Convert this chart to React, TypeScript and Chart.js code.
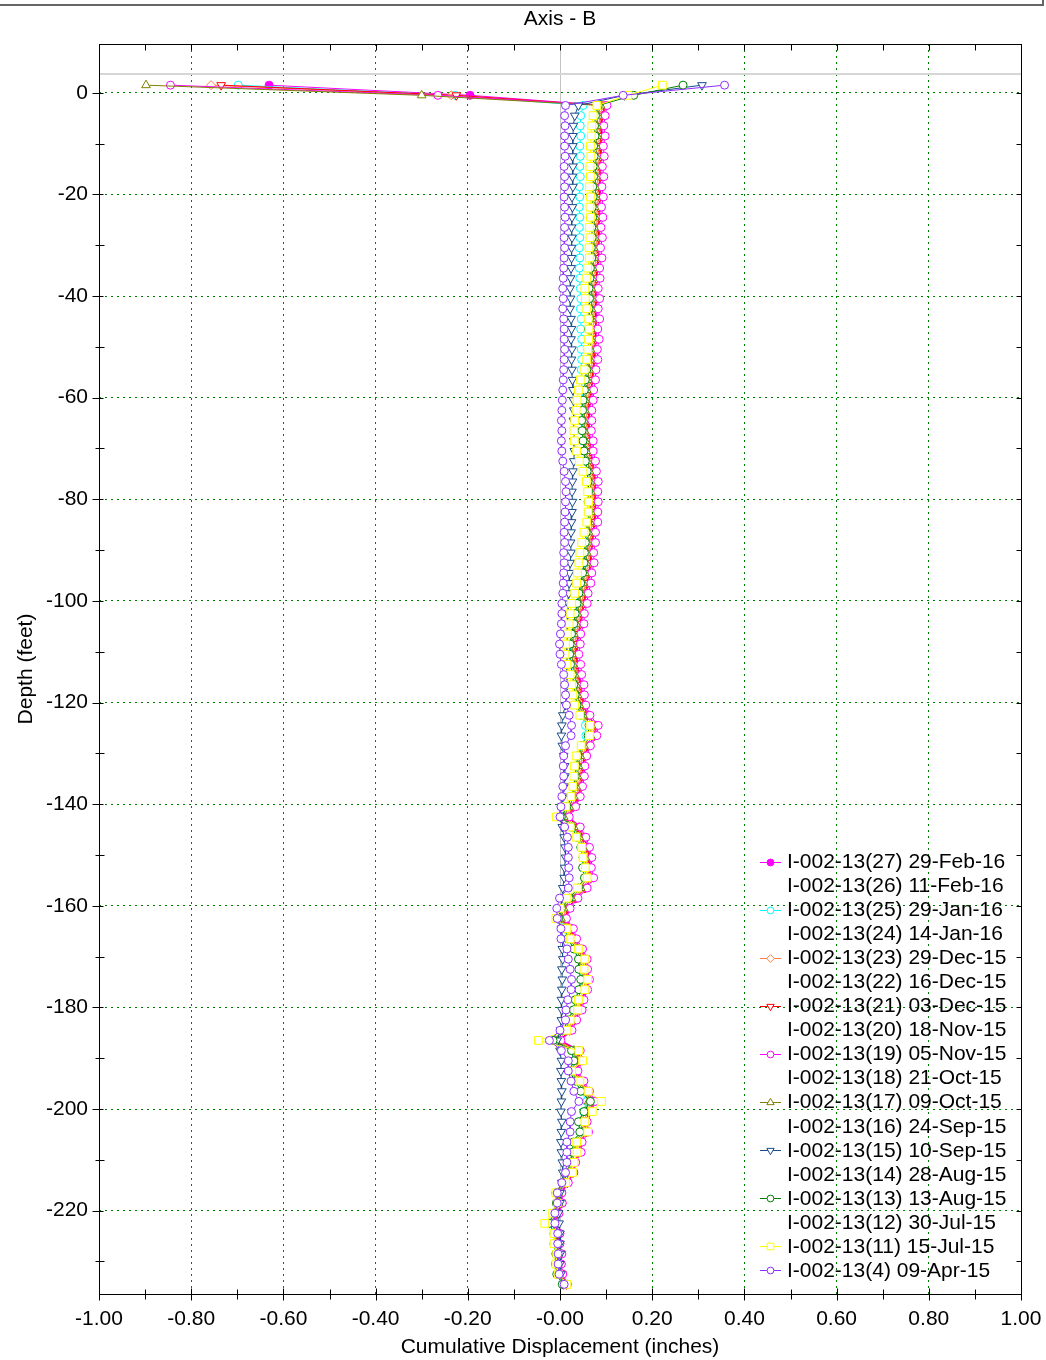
import React, { useEffect, useRef } from 'react';
import { Chart, registerables } from 'chart.js';
import { drawPoint } from 'chart.js/helpers';

Chart.register(...registerables);

const FONT = "'Liberation Sans', Arial, Helvetica, sans-serif";

// Depth of each reading (feet)
const depths = [
  1.5, -0.5, -2.5, -4.5, -6.5, -8.5, -10.5, -12.5, -14.5, -16.5,
  -18.5, -20.5, -22.5, -24.5, -26.5, -28.5, -30.5, -32.5, -34.5, -36.5,
  -38.5, -40.5, -42.5, -44.5, -46.5, -48.5, -50.5, -52.5, -54.5, -56.5,
  -58.5, -60.5, -62.5, -64.5, -66.5, -68.5, -70.5, -72.5, -74.5, -76.5,
  -78.5, -80.5, -82.5, -84.5, -86.5, -88.5, -90.5, -92.5, -94.5, -96.5,
  -98.5, -100.5, -102.5, -104.5, -106.5, -108.5, -110.5, -112.5, -114.5, -116.5,
  -118.5, -120.5, -122.5, -124.5, -126.5, -128.5, -130.5, -132.5, -134.5, -136.5,
  -138.5, -140.5, -142.5, -144.5, -146.5, -148.5, -150.5, -152.5, -154.5, -156.5,
  -158.5, -160.5, -162.5, -164.5, -166.5, -168.5, -170.5, -172.5, -174.5, -176.5,
  -178.5, -180.5, -182.5, -184.5, -186.5, -188.5, -190.5, -192.5, -194.5, -196.5,
  -198.5, -200.5, -202.5, -204.5, -206.5, -208.5, -210.5, -212.5, -214.5, -216.5,
  -218.5, -220.5, -222.5, -224.5, -226.5, -228.5, -230.5, -232.5, -234.5,
];

// Cumulative displacement (inches), one value per depth
const s27 = [
  -0.631, -0.195, 0.099, 0.093, 0.091, 0.092, 0.089, 0.090, 0.088, 0.089,
  0.087, 0.088, 0.086, 0.087, 0.085, 0.086, 0.084, 0.085, 0.082, 0.081,
  0.079, 0.080, 0.079, 0.080, 0.078, 0.079, 0.077, 0.076, 0.074, 0.071,
  0.069, 0.066, 0.065, 0.063, 0.064, 0.066, 0.068, 0.071, 0.075, 0.077,
  0.078, 0.077, 0.078, 0.076, 0.073, 0.071, 0.069, 0.068, 0.065, 0.061,
  0.057, 0.053, 0.049, 0.046, 0.041, 0.038, 0.037, 0.039, 0.043, 0.046,
  0.049, 0.053, 0.061, 0.079, 0.077, 0.063, 0.055, 0.051, 0.049, 0.046,
  0.041, 0.031, 0.019, 0.041, 0.053, 0.061, 0.066, 0.065, 0.069, 0.056,
  0.036, 0.019, 0.013, 0.026, 0.033, 0.046, 0.056, 0.057, 0.061, 0.057,
  0.049, 0.045, 0.033, 0.023, 0.001, 0.041, 0.046, 0.036, 0.049, 0.061,
  0.073, 0.066, 0.056, 0.059, 0.045, 0.043, 0.033, 0.029, 0.017, 0.003,
  0.004, -0.003, -0.011, -0.001, -0.001, 0.003, 0.002, 0.005, 0.015,
];
const s25 = [
  -0.698, -0.228, 0.050, 0.045, 0.044, 0.045, 0.043, 0.044, 0.043, 0.044,
  0.042, 0.043, 0.042, 0.043, 0.042, 0.043, 0.042, 0.043, 0.042, 0.043,
  0.044, 0.045, 0.044, 0.046, 0.045, 0.047, 0.046, 0.047, 0.046, 0.047,
  0.048, 0.048, 0.049, 0.048, 0.050, 0.051, 0.053, 0.056, 0.059, 0.061,
  0.063, 0.062, 0.063, 0.061, 0.058, 0.056, 0.054, 0.053, 0.050, 0.046,
  0.042, 0.038, 0.034, 0.031, 0.026, 0.023, 0.022, 0.024, 0.028, 0.031,
  0.034, 0.038, 0.046, 0.055, 0.056, 0.048, 0.040, 0.036, 0.034, 0.031,
  0.026, 0.016, 0.004, 0.026, 0.038, 0.046, 0.051, 0.050, 0.054, 0.041,
  0.021, 0.004, -0.002, 0.011, 0.018, 0.031, 0.041, 0.042, 0.046, 0.042,
  0.034, 0.030, 0.018, 0.008, -0.014, 0.026, 0.031, 0.021, 0.034, 0.046,
  0.058, 0.051, 0.041, 0.044, 0.030, 0.028, 0.022, 0.018, 0.006, -0.008,
  -0.007, -0.014, -0.022, -0.012, -0.012, -0.008, -0.009, -0.006, 0.006,
];
const s23 = [
  -0.757, -0.236, 0.093, 0.087, 0.085, 0.086, 0.083, 0.084, 0.082, 0.083,
  0.081, 0.082, 0.080, 0.081, 0.079, 0.080, 0.078, 0.079, 0.076, 0.075,
  0.073, 0.074, 0.073, 0.074, 0.072, 0.073, 0.071, 0.070, 0.068, 0.065,
  0.063, 0.060, 0.059, 0.057, 0.058, 0.060, 0.062, 0.065, 0.069, 0.071,
  0.072, 0.071, 0.072, 0.070, 0.067, 0.065, 0.063, 0.062, 0.059, 0.055,
  0.051, 0.047, 0.043, 0.040, 0.035, 0.032, 0.031, 0.033, 0.037, 0.040,
  0.043, 0.047, 0.055, 0.073, 0.071, 0.057, 0.049, 0.045, 0.043, 0.040,
  0.035, 0.025, 0.013, 0.035, 0.047, 0.055, 0.060, 0.059, 0.063, 0.050,
  0.030, 0.013, 0.007, 0.020, 0.027, 0.040, 0.050, 0.051, 0.055, 0.051,
  0.043, 0.039, 0.027, 0.017, -0.005, 0.035, 0.040, 0.030, 0.043, 0.055,
  0.067, 0.060, 0.050, 0.053, 0.039, 0.037, 0.031, 0.027, 0.015, 0.001,
  0.002, -0.005, -0.013, -0.003, -0.003, 0.001, 0.000, 0.003, 0.015,
];
const s21 = [
  -0.735, -0.225, 0.097, 0.091, 0.089, 0.090, 0.087, 0.088, 0.086, 0.087,
  0.085, 0.086, 0.084, 0.085, 0.083, 0.084, 0.082, 0.083, 0.080, 0.079,
  0.077, 0.078, 0.077, 0.078, 0.076, 0.077, 0.075, 0.074, 0.072, 0.069,
  0.067, 0.064, 0.063, 0.061, 0.062, 0.064, 0.066, 0.069, 0.073, 0.075,
  0.076, 0.075, 0.076, 0.074, 0.071, 0.069, 0.067, 0.066, 0.063, 0.059,
  0.055, 0.051, 0.047, 0.044, 0.039, 0.036, 0.035, 0.037, 0.041, 0.044,
  0.047, 0.051, 0.059, 0.077, 0.075, 0.061, 0.053, 0.049, 0.047, 0.044,
  0.039, 0.029, 0.017, 0.039, 0.051, 0.059, 0.064, 0.063, 0.067, 0.054,
  0.034, 0.017, 0.011, 0.024, 0.031, 0.044, 0.054, 0.055, 0.059, 0.055,
  0.047, 0.043, 0.031, 0.021, -0.001, 0.039, 0.044, 0.034, 0.047, 0.059,
  0.071, 0.064, 0.054, 0.057, 0.043, 0.041, 0.032, 0.028, 0.016, 0.002,
  0.003, -0.004, -0.012, -0.002, -0.002, 0.002, 0.001, 0.004, 0.014,
];
const s19 = [
  -0.845, -0.265, 0.102, 0.098, 0.095, 0.098, 0.094, 0.096, 0.092, 0.095,
  0.091, 0.094, 0.090, 0.093, 0.089, 0.092, 0.088, 0.091, 0.086, 0.087,
  0.083, 0.086, 0.083, 0.086, 0.082, 0.085, 0.081, 0.082, 0.078, 0.077,
  0.073, 0.072, 0.069, 0.069, 0.068, 0.072, 0.072, 0.077, 0.079, 0.083,
  0.082, 0.083, 0.082, 0.082, 0.077, 0.077, 0.073, 0.074, 0.069, 0.067,
  0.061, 0.059, 0.053, 0.052, 0.045, 0.044, 0.041, 0.045, 0.047, 0.052,
  0.053, 0.056, 0.065, 0.083, 0.080, 0.066, 0.058, 0.054, 0.053, 0.049,
  0.044, 0.034, 0.020, 0.044, 0.056, 0.064, 0.069, 0.068, 0.073, 0.059,
  0.039, 0.022, 0.014, 0.029, 0.036, 0.049, 0.059, 0.060, 0.064, 0.060,
  0.052, 0.048, 0.036, 0.026, 0.002, 0.044, 0.049, 0.039, 0.052, 0.064,
  0.076, 0.069, 0.059, 0.062, 0.048, 0.046, 0.034, 0.030, 0.018, 0.004,
  0.005, -0.002, -0.010, 0.000, 0.000, 0.004, 0.003, 0.006, 0.016,
];
const s17 = [
  -0.898, -0.300, 0.088, 0.082, 0.080, 0.081, 0.078, 0.079, 0.077, 0.078,
  0.076, 0.077, 0.075, 0.076, 0.074, 0.075, 0.073, 0.074, 0.071, 0.070,
  0.068, 0.069, 0.068, 0.069, 0.067, 0.068, 0.066, 0.065, 0.063, 0.060,
  0.058, 0.055, 0.054, 0.052, 0.053, 0.055, 0.057, 0.060, 0.064, 0.066,
  0.067, 0.066, 0.067, 0.065, 0.062, 0.060, 0.058, 0.057, 0.054, 0.050,
  0.046, 0.042, 0.038, 0.035, 0.030, 0.027, 0.026, 0.028, 0.032, 0.035,
  0.038, 0.042, 0.050, 0.068, 0.066, 0.052, 0.044, 0.040, 0.038, 0.035,
  0.030, 0.020, 0.008, 0.030, 0.042, 0.050, 0.055, 0.054, 0.058, 0.045,
  0.025, 0.008, 0.002, 0.015, 0.022, 0.035, 0.045, 0.046, 0.050, 0.046,
  0.038, 0.034, 0.022, 0.012, -0.010, 0.030, 0.035, 0.025, 0.038, 0.050,
  0.062, 0.055, 0.045, 0.048, 0.034, 0.032, 0.026, 0.022, 0.010, -0.004,
  -0.003, -0.010, -0.018, -0.008, -0.008, -0.004, -0.005, -0.002, 0.010,
];
const s15 = [
  0.308, 0.140, 0.040, 0.032, 0.029, 0.028, 0.028, 0.027, 0.028, 0.027,
  0.028, 0.026, 0.027, 0.026, 0.025, 0.026, 0.025, 0.025, 0.024, 0.023,
  0.022, 0.023, 0.022, 0.024, 0.025, 0.024, 0.026, 0.025, 0.026, 0.027,
  0.028, 0.029, 0.030, 0.029, 0.031, 0.030, 0.031, 0.030, 0.028, 0.027,
  0.026, 0.027, 0.026, 0.025, 0.024, 0.023, 0.024, 0.022, 0.021, 0.020,
  0.019, 0.018, 0.017, 0.016, 0.015, 0.014, 0.015, 0.014, 0.015, 0.016,
  0.014, 0.012, 0.006, 0.004, 0.003, 0.005, 0.008, 0.010, 0.011, 0.009,
  0.007, 0.003, 0.001, 0.005, 0.009, 0.011, 0.012, 0.010, 0.009, 0.006,
  0.004, 0.002, -0.004, 0.003, 0.006, 0.005, 0.006, 0.004, 0.005, 0.004,
  0.003, 0.004, 0.003, 0.001, -0.006, 0.000, 0.003, 0.002, 0.003, 0.004,
  0.003, 0.002, 0.004, 0.003, 0.002, 0.003, 0.005, 0.006, 0.004, 0.000,
  0.000, -0.003, -0.002, 0.000, 0.000, 0.001, 0.000, 0.002, 0.007,
];
const s13 = [
  0.267, 0.160, 0.083, 0.077, 0.075, 0.076, 0.073, 0.074, 0.072, 0.073,
  0.071, 0.072, 0.070, 0.071, 0.069, 0.070, 0.068, 0.069, 0.066, 0.065,
  0.063, 0.064, 0.063, 0.064, 0.062, 0.063, 0.061, 0.060, 0.058, 0.055,
  0.053, 0.050, 0.049, 0.047, 0.048, 0.050, 0.052, 0.055, 0.059, 0.061,
  0.062, 0.061, 0.062, 0.060, 0.057, 0.055, 0.053, 0.052, 0.049, 0.045,
  0.041, 0.037, 0.033, 0.030, 0.025, 0.022, 0.021, 0.023, 0.027, 0.030,
  0.033, 0.037, 0.045, 0.063, 0.061, 0.047, 0.039, 0.035, 0.033, 0.030,
  0.025, 0.015, 0.003, 0.025, 0.037, 0.045, 0.050, 0.049, 0.053, 0.040,
  0.020, 0.003, -0.003, 0.010, 0.017, 0.030, 0.040, 0.041, 0.045, 0.041,
  0.033, 0.029, 0.017, 0.007, -0.015, 0.025, 0.030, 0.020, 0.033, 0.045,
  0.066, 0.052, 0.040, 0.043, 0.029, 0.027, 0.021, 0.017, 0.005, -0.009,
  -0.008, -0.015, -0.023, -0.013, -0.013, -0.009, -0.010, -0.007, 0.005,
];
const s11 = [
  0.222, 0.147, 0.080, 0.072, 0.069, 0.068, 0.066, 0.067, 0.065, 0.066,
  0.064, 0.066, 0.065, 0.066, 0.064, 0.065, 0.063, 0.064, 0.060, 0.058,
  0.054, 0.055, 0.058, 0.061, 0.063, 0.062, 0.060, 0.058, 0.052, 0.044,
  0.040, 0.037, 0.035, 0.032, 0.030, 0.031, 0.036, 0.042, 0.050, 0.057,
  0.060, 0.062, 0.061, 0.058, 0.052, 0.047, 0.043, 0.041, 0.038, 0.036,
  0.032, 0.025, 0.022, 0.020, 0.016, 0.012, 0.011, 0.015, 0.022, 0.025,
  0.028, 0.032, 0.043, 0.065, 0.064, 0.046, 0.035, 0.031, 0.030, 0.028,
  0.024, 0.012, -0.008, 0.022, 0.035, 0.047, 0.050, 0.055, 0.059, 0.038,
  0.015, 0.000, -0.009, 0.015, 0.022, 0.040, 0.054, 0.052, 0.060, 0.054,
  0.040, 0.038, 0.022, 0.015, -0.047, 0.041, 0.049, 0.025, 0.043, 0.061,
  0.090, 0.070, 0.054, 0.060, 0.036, 0.037, 0.030, 0.027, 0.012, -0.009,
  -0.006, -0.016, -0.033, -0.013, -0.013, -0.007, -0.009, -0.004, 0.015,
];
const s4 = [
  0.357, 0.137, 0.012, 0.010, 0.011, 0.010, 0.010, 0.011, 0.009, 0.010,
  0.010, 0.009, 0.010, 0.011, 0.010, 0.009, 0.010, 0.009, 0.008, 0.007,
  0.006, 0.007, 0.006, 0.008, 0.009, 0.009, 0.010, 0.009, 0.008, 0.007,
  0.006, 0.005, 0.004, 0.003, 0.004, 0.003, 0.004, 0.006, 0.009, 0.012,
  0.013, 0.012, 0.011, 0.010, 0.009, 0.010, 0.008, 0.009, 0.008, 0.007,
  0.006, 0.004, 0.004, 0.003, 0.001, -0.001, 0.000, 0.003, 0.008, 0.010,
  0.012, 0.014, 0.020, 0.025, 0.024, 0.012, 0.008, 0.007, 0.008, 0.006,
  0.004, 0.002, 0.000, 0.010, 0.016, 0.018, 0.018, 0.019, 0.020, 0.018,
  -0.001, -0.007, -0.006, 0.002, 0.002, 0.015, 0.018, 0.022, 0.025, 0.024,
  0.017, 0.013, 0.012, 0.000, -0.023, 0.003, 0.018, 0.018, 0.024, 0.030,
  0.041, 0.025, 0.022, 0.022, 0.015, 0.015, 0.015, 0.012, 0.004, -0.006,
  -0.006, -0.011, -0.011, -0.005, -0.005, -0.004, -0.004, -0.002, 0.009,
];

const seriesLabels = [
  'I-002-13(27) 29-Feb-16',
  'I-002-13(26) 11-Feb-16',
  'I-002-13(25) 29-Jan-16',
  'I-002-13(24) 14-Jan-16',
  'I-002-13(23) 29-Dec-15',
  'I-002-13(22) 16-Dec-15',
  'I-002-13(21) 03-Dec-15',
  'I-002-13(20) 18-Nov-15',
  'I-002-13(19) 05-Nov-15',
  'I-002-13(18) 21-Oct-15',
  'I-002-13(17) 09-Oct-15',
  'I-002-13(16) 24-Sep-15',
  'I-002-13(15) 10-Sep-15',
  'I-002-13(14) 28-Aug-15',
  'I-002-13(13) 13-Aug-15',
  'I-002-13(12) 30-Jul-15',
  'I-002-13(11) 15-Jul-15',
  'I-002-13(4) 09-Apr-15',
];
// series values in legend order (null = listed in legend, not plotted)
const seriesValues: (number[] | null)[] = [
  s27, null, s25, null, s23, null, s21, null, s19, null, s17, null, s15, null, s13, null, s11, s4,
];

const xTickValues = [-1, -0.8, -0.6, -0.4, -0.2, 0, 0.2, 0.4, 0.6, 0.8, 1];
const xTickLabels = ['-1.00', '-0.80', '-0.60', '-0.40', '-0.20', '-0.00', '0.20', '0.40', '0.60', '0.80', '1.00'];
const yTickValues = [0, -20, -40, -60, -80, -100, -120, -140, -160, -180, -200, -220];
const yTickLabels = ['0', '-20', '-40', '-60', '-80', '-100', '-120', '-140', '-160', '-180', '-200', '-220'];
const referenceDepths = [3.6];

type Style = { color: string; point: string; rot: number; fill: string; radius: number };
const styles: (Style | null)[] = [
  { color: '#ff00ff', point: 'circle', rot: 0, fill: '#ff00ff', radius: 4 },
  null,
  { color: '#00ffff', point: 'circle', rot: 0, fill: '#ffffff', radius: 4 },
  null,
  { color: '#ff8040', point: 'rectRot', rot: 0, fill: '#ffffff', radius: 4.5 },
  null,
  { color: '#ff0000', point: 'triangle', rot: 180, fill: '#ffffff', radius: 5 },
  null,
  { color: '#ff00ff', point: 'circle', rot: 0, fill: '#ffffff', radius: 4 },
  null,
  { color: '#808000', point: 'triangle', rot: 0, fill: '#ffffff', radius: 5 },
  null,
  { color: '#1a4b8c', point: 'triangle', rot: 180, fill: '#ffffff', radius: 5 },
  null,
  { color: '#008000', point: 'circle', rot: 0, fill: '#ffffff', radius: 4 },
  null,
  { color: '#ffff00', point: 'rect', rot: 0, fill: '#ffffff', radius: 5.5 },
  { color: '#8f2cff', point: 'circle', rot: 0, fill: '#ffffff', radius: 4 },
];

const decorPlugin = {
  id: 'decor',
  beforeDatasetsDraw(chart: any) {
    const { ctx, chartArea, scales } = chart;
    const { left, right, top, bottom } = chartArea;
    ctx.save();
    const x0 = Math.round(scales.x.getPixelForValue(0)) + 0.5;
    ctx.strokeStyle = '#c4c4c4';
    ctx.lineWidth = 1;
    ctx.beginPath();
    ctx.moveTo(x0, top);
    ctx.lineTo(x0, bottom);
    ctx.stroke();
    ctx.strokeStyle = '#d6d6d6';
    ctx.lineWidth = 2;
    referenceDepths.forEach((d) => {
      const yy = Math.round(scales.y.getPixelForValue(d));
      ctx.beginPath();
      ctx.moveTo(left, yy);
      ctx.lineTo(right, yy);
      ctx.stroke();
    });
    ctx.restore();
  },
  afterDatasetsDraw(chart: any) {
    const { ctx, chartArea, scales } = chart;
    const { left, right, top, bottom } = chartArea;
    ctx.save();
    ctx.strokeStyle = '#000';
    ctx.lineWidth = 1;
    const L = Math.round(left) + 0.5;
    const R = Math.round(right) + 0.5;
    const T = Math.round(top) + 0.5;
    const B = Math.round(bottom) + 0.5;
    ctx.strokeRect(L, T, R - L, B - T);
    ctx.beginPath();
    for (let i = -10; i <= 10; i++) {
      const px = Math.round(scales.x.getPixelForValue(i / 10)) + 0.5;
      const major = i % 2 === 0;
      ctx.moveTo(px, B - (major ? 6 : 5));
      ctx.lineTo(px, B + (major ? 6 : 5));
      ctx.moveTo(px, T);
      ctx.lineTo(px, T + 6);
    }
    for (let v = 0; v >= -230; v -= 10) {
      const py = Math.round(scales.y.getPixelForValue(v)) + 0.5;
      const major = v % 20 === 0;
      ctx.moveTo(L - (major ? 7 : 4), py);
      ctx.lineTo(L + (major ? 4 : 5), py);
      ctx.moveTo(R, py);
      ctx.lineTo(R - 5, py);
    }
    ctx.stroke();
    ctx.restore();
  },
  afterDraw(chart: any) {
    const { ctx, chartArea } = chart;
    const lx = chartArea.right - 261;
    const ly0 = chartArea.bottom - 432.5;
    const dy = 24.02;
    ctx.save();
    ctx.font = `21px ${FONT}`;
    ctx.textBaseline = 'middle';
    ctx.textAlign = 'left';
    seriesLabels.forEach((label, i) => {
      const yy = ly0 + i * dy;
      const st = styles[i];
      if (st) {
        ctx.strokeStyle = st.color;
        ctx.lineWidth = 1;
        ctx.beginPath();
        ctx.moveTo(lx, Math.round(yy) + 0.5);
        ctx.lineTo(lx + 21, Math.round(yy) + 0.5);
        ctx.stroke();
        ctx.fillStyle = st.fill;
        ctx.strokeStyle = st.color;
        drawPoint(ctx, { pointStyle: st.point, rotation: st.rot, radius: st.radius * 0.85, borderWidth: 1 } as any, lx + 10.5, Math.round(yy) + 0.5);
      }
      ctx.fillStyle = '#000';
      ctx.fillText(label, lx + 27, yy + 1);
    });
    ctx.restore();
  },
};

export default function App() {
  const canvasRef = useRef<HTMLCanvasElement>(null);

  useEffect(() => {
    const canvas = canvasRef.current;
    if (!canvas) return;
    const datasets = seriesLabels.map((label, i) => {
      const vals = seriesValues[i];
      const st = styles[i];
      const data = vals ? vals.map((v, k) => ({ x: v, y: depths[k] })) : [];
      return {
        label,
        data,
        showLine: true,
        order: seriesLabels.length - 1 - i,
        borderColor: st ? st.color : 'transparent',
        borderWidth: 1,
        pointStyle: st ? st.point : 'circle',
        pointRotation: st ? st.rot : 0,
        pointRadius: st ? st.radius : 0,
        pointBackgroundColor: st ? st.fill : 'transparent',
        pointBorderColor: st ? st.color : 'transparent',
        pointBorderWidth: 1,
        tension: 0,
      };
    });
    const tickFont = { family: FONT, size: 21 };
    const chart = new Chart(canvas, {
      type: 'scatter',
      data: { datasets: datasets as any },
      plugins: [decorPlugin],
      options: {
        animation: false,
        responsive: false,
        maintainAspectRatio: false,
        layout: { padding: { left: 0, right: 25, top: 0, bottom: 0 } },
        plugins: {
          legend: { display: false },
          tooltip: { enabled: false },
          title: { display: false },
        },
        scales: {
          x: {
            type: 'linear',
            position: 'bottom',
            min: -1,
            max: 1,
            afterBuildTicks: (s: any) => {
              s.ticks = xTickValues.map((v) => ({ value: v }));
            },
            afterFit: (s: any) => {
              s.height = 66;
              s.paddingLeft = 0;
              s.paddingRight = 0;
            },
            ticks: {
              autoSkip: false,
              maxRotation: 0,
              padding: 13,
              color: '#000',
              font: tickFont,
              callback: (_v: any, idx: number) => xTickLabels[idx],
            },
            grid: { color: '#008000', lineWidth: 1, drawTicks: false },
            border: { display: false, dash: [2, 4] },
            title: {
              display: true,
              text: 'Cumulative Displacement (inches)',
              color: '#000',
              font: tickFont,
              padding: { top: 0, bottom: 0 },
            },
          },
          xTop: {
            type: 'linear',
            position: 'top',
            min: -1,
            max: 1,
            afterFit: (s: any) => {
              s.height = 44;
              s.paddingLeft = 0;
              s.paddingRight = 0;
            },
            ticks: { display: false },
            grid: { display: false, drawTicks: false },
            border: { display: false },
            title: {
              display: true,
              text: 'Axis - B',
              color: '#000',
              font: tickFont,
              padding: { top: 7, bottom: 0 },
            },
          },
          y: {
            type: 'linear',
            position: 'left',
            min: -236.4,
            max: 9.6,
            afterBuildTicks: (s: any) => {
              s.ticks = yTickValues.map((v) => ({ value: v }));
            },
            afterFit: (s: any) => {
              s.width = 99;
              s.paddingTop = 0;
              s.paddingBottom = 0;
            },
            ticks: {
              autoSkip: false,
              padding: 11,
              color: '#000',
              font: tickFont,
              callback: (_v: any, idx: number) => yTickLabels[idx],
            },
            grid: { color: '#008000', lineWidth: 1, drawTicks: false },
            border: { display: false, dash: [2, 4] },
            title: {
              display: true,
              text: 'Depth (feet)',
              color: '#000',
              font: tickFont,
              padding: { top: 14, bottom: 0 },
            },
          },
        },
      } as any,
    });
    return () => chart.destroy();
  }, []);

  return (
    <div style={{ position: 'absolute', left: 0, top: 0, width: 1046, height: 1360, background: '#fff', overflow: 'hidden' }}>
      <canvas
        ref={canvasRef}
        width={1046}
        height={1360}
        style={{ position: 'absolute', left: 0, top: 0, width: 1046, height: 1360 }}
      />
      <div
        style={{
          position: 'absolute',
          left: -10,
          top: -10,
          width: 1052,
          height: 14,
          borderRight: '2px solid #666',
          borderBottom: '2px solid #666',
        }}
      />
    </div>
  );
}
